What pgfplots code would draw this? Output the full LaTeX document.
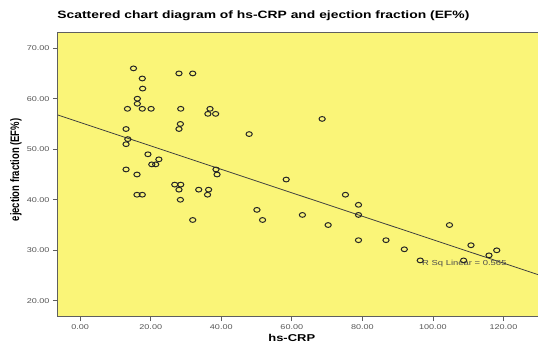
\documentclass[border=0pt]{standalone}
\usepackage{fontspec}
\setmainfont{Liberation Sans}
\usepackage{graphicx}
\usepackage{pgfplots}
\pgfplotsset{compat=1.18}
\definecolor{bgyellow}{RGB}{250,245,120}
\definecolor{framegray}{RGB}{95,95,95}
\definecolor{ticklab}{RGB}{85,85,85}
\newcommand{\sx}[1]{\scalebox{1.3}[1]{#1}}

\begin{document}
\begin{tikzpicture}
\begin{axis}[
  scale only axis, width=480bp, height=283bp,
  xmin=-6.3, xmax=129.8, ymin=17, ymax=73,
  xtick={0,20,40,60,80,100,120}, ytick={20,30,40,50,60,70},
  tick pos=left, tick align=outside, major tick length=5bp,
  tick style={framegray, line width=0.8bp},
  axis line style={framegray, line width=1bp},
  axis background/.style={fill=bgyellow},
  /pgf/number format/assume math mode=true,
  xticklabel={\sx{\pgfmathprintnumber[fixed,fixed zerofill,precision=2]{\tick}}},
  yticklabel={\sx{\pgfmathprintnumber[fixed,fixed zerofill,precision=2]{\tick}}},
  ticklabel style={font=\fontsize{7}{8}\selectfont, text=ticklab},
  xlabel={\sx{\bfseries hs-CRP}},
  xlabel style={at={(axis description cs:0.487,-0.0767)}, anchor=center, font=\fontsize{10}{12}\selectfont},
  ylabel={\scalebox{1}[1.3]{\fontsize{9.5}{11}\selectfont\bfseries ejection fraction (EF\%)}},
  ylabel style={at={(axis description cs:-0.0875,0.516)}, anchor=center},
  title={\sx{\bfseries Scattered chart diagram of hs-CRP and ejection fraction (EF\%)}},
  title style={at={(axis description cs:0.428,1.039)}, anchor=center, font=\fontsize{10.7}{12}\selectfont},
]
\addplot[only marks, mark=o, mark size=2.4pt,
  mark options={xscale=1.3, line width=1bp, draw=black!85}] coordinates {
(15.1,66) (17.6,64) (17.7,62) (28.0,65) (31.9,65)
(16.2,60) (16.2,59) (13.4,58) (17.6,58) (20.1,58)
(28.5,58) (36.8,58) (36.2,57) (38.4,57) (28.4,55)
(28.0,54) (13.0,54) (13.5,52) (13.0,51) (19.2,49)
(22.3,48) (20.3,47) (21.4,47) (13.0,46) (16.1,45)
(26.8,43) (28.5,43) (28.0,42) (33.6,42) (36.4,42)
(36.1,41) (16.1,41) (17.6,41) (28.4,40) (31.9,36)
(38.5,46) (38.8,45) (47.9,53) (68.6,56) (58.4,44)
(50.1,38) (51.7,36) (63.0,37) (75.2,41) (78.9,39)
(78.9,37) (70.3,35) (78.9,32) (86.7,32) (91.9,30.2)
(96.4,28) (104.7,35) (110.8,31) (118.1,30) (115.9,29)
(108.7,28)
};
\addplot[no marks, color=black!75, line width=0.8bp] coordinates {(-6.3,56.76) (129.8,25.19)};
\node[anchor=west, font=\fontsize{7.3}{8}\selectfont, text=black!70, inner sep=0pt] at (axis cs:96.9,27.3) {\sx{R Sq Linear = 0.565}};
\coordinate (SW) at (rel axis cs:0,0);
\coordinate (NE) at (rel axis cs:1,1);
\end{axis}
\pgfresetboundingbox
\path[use as bounding box] ([shift={(-58bp,-31bp)}]SW) rectangle ([shift={(0bp,33bp)}]NE);
\end{tikzpicture}
\end{document}
